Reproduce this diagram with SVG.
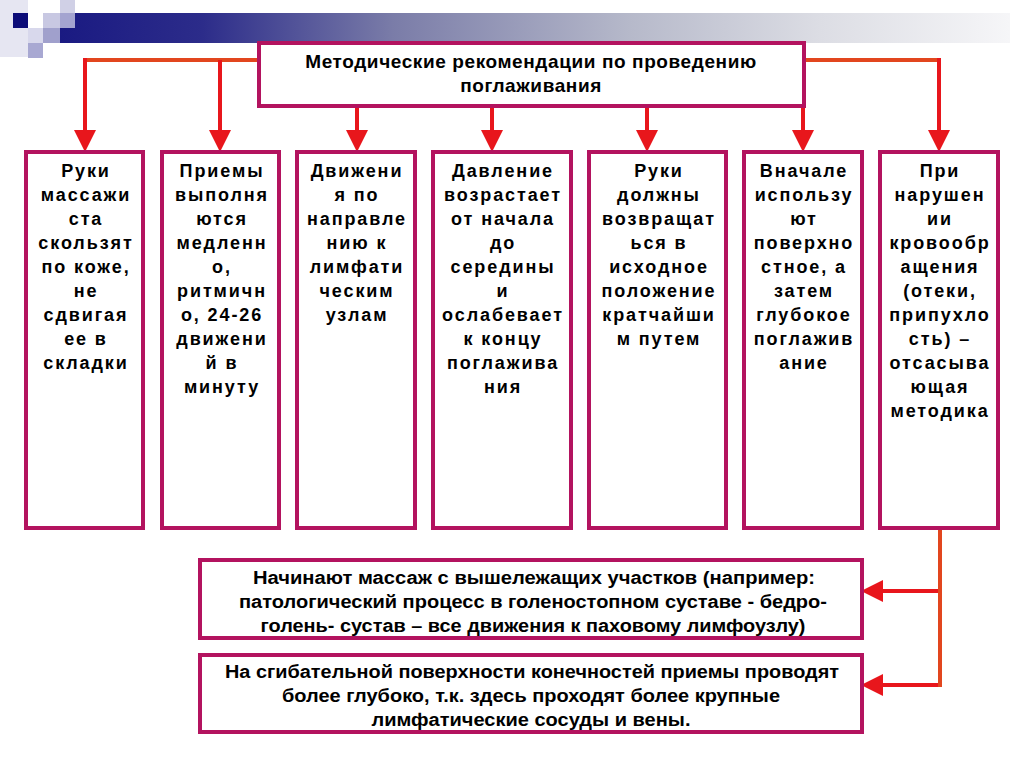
<svg xmlns="http://www.w3.org/2000/svg" width="1024" height="767" viewBox="0 0 1024 767">
<defs>
<linearGradient id="band" x1="0" y1="0" x2="1" y2="0">
<stop offset="0" stop-color="#1a1a82"/>
<stop offset="0.15" stop-color="#2c2c8a"/>
<stop offset="0.35" stop-color="#7a7ca8"/>
<stop offset="0.6" stop-color="#b6b9ca"/>
<stop offset="0.8" stop-color="#dcdde4"/>
<stop offset="1" stop-color="#f6f6f8"/>
</linearGradient>
<marker id="ah" markerUnits="userSpaceOnUse" markerWidth="22" markerHeight="22" viewBox="0 0 20 20" refX="0" refY="10" orient="auto">
<path d="M0,0 L20,10 L0,20 z" fill="#e8161c"/>
</marker>
<style>
.box{fill:#fff;stroke:#b3135f;stroke-width:4}
.col{font-family:"Liberation Sans",Arial,sans-serif;font-weight:bold;font-size:18px;letter-spacing:1.9px;text-anchor:middle;fill:#000}
.ttl{font-family:"Liberation Sans",Arial,sans-serif;font-weight:bold;font-size:19px;letter-spacing:0.6px;text-anchor:middle;fill:#000}
.nar{font-family:"Liberation Sans Narrow","Liberation Sans",Arial,sans-serif;font-weight:bold;font-size:18px;text-anchor:middle;fill:#000}
.arr{fill:none;stroke:#e8161c;stroke-width:4;marker-end:url(#ah)}
.hl{fill:none;stroke:#e2461e;stroke-width:4}
</style>
</defs>
<rect width="1024" height="767" fill="#fff"/>
<g id="decor">
<rect x="60" y="13" width="950" height="30" fill="url(#band)"/>
<rect x="0" y="0" width="28" height="57" fill="#e6e6f2"/>
<rect x="13" y="13" width="15" height="15" fill="#0c0c78"/>
<rect x="28" y="28" width="15" height="15" fill="#d8d8ec"/>
<rect x="28" y="43" width="15" height="15" fill="#a8a8d2"/>
<rect x="43" y="13" width="17" height="15" fill="#c8c8e2"/>
<rect x="43" y="28" width="17" height="15" fill="#a0a0cc"/>
<rect x="60" y="0" width="15" height="13" fill="#d0d0e6"/>
<rect x="60" y="13" width="15" height="15" fill="#a4a4d0"/>
</g>
<g id="connectors">
<path class="hl" d="M259,60 H85"/>
<path class="hl" d="M804,60 H939"/>
<path class="hl" d="M940,528 V685 H920"/>
<path class="hl" d="M940,591 H920"/>
<path class="arr" d="M85,58 V130"/>
<path class="arr" d="M220,60 V130"/>
<path class="arr" d="M357,106 V130"/>
<path class="arr" d="M492,106 V130"/>
<path class="arr" d="M647,106 V130"/>
<path class="arr" d="M803,106 V130"/>
<path class="arr" d="M939,58 V130"/>
<path class="arr" d="M938,591 H883"/>
<path class="arr" d="M938,685 H883"/>
</g>
<g id="title">
<rect class="box" x="259" y="43" width="545" height="63"/>
<text class="ttl" x="531" y="68">Методические рекомендации по проведению</text>
<text class="ttl" x="531" y="92">поглаживания</text>
</g>
<g id="c1">
<rect class="box" x="26" y="152" width="117" height="376"/>
<text class="col" x="86" y="177">Руки</text>
<text class="col" x="86" y="201">массажи</text>
<text class="col" x="86" y="225">ста</text>
<text class="col" x="86" y="249">скользят</text>
<text class="col" x="86" y="273">по коже,</text>
<text class="col" x="86" y="297">не</text>
<text class="col" x="86" y="321">сдвигая</text>
<text class="col" x="86" y="345">ее в</text>
<text class="col" x="86" y="369">складки</text>
</g>
<g id="c2">
<rect class="box" x="162" y="152" width="117" height="376"/>
<text class="col" x="222" y="177">Приемы</text>
<text class="col" x="222" y="201">выполня</text>
<text class="col" x="222" y="225">ются</text>
<text class="col" x="222" y="249">медленн</text>
<text class="col" x="222" y="273">о,</text>
<text class="col" x="222" y="297">ритмичн</text>
<text class="col" x="222" y="321">о, 24-26</text>
<text class="col" x="222" y="345">движени</text>
<text class="col" x="222" y="369">й в</text>
<text class="col" x="222" y="393">минуту</text>
</g>
<g id="c3">
<rect class="box" x="297" y="152" width="118" height="376"/>
<text class="col" x="357" y="177">Движени</text>
<text class="col" x="357" y="201">я по</text>
<text class="col" x="357" y="225">направле</text>
<text class="col" x="357" y="249">нию к</text>
<text class="col" x="357" y="273">лимфати</text>
<text class="col" x="357" y="297">ческим</text>
<text class="col" x="357" y="321">узлам</text>
</g>
<g id="c4">
<rect class="box" x="433" y="152" width="138" height="376"/>
<text class="col" x="503" y="177">Давление</text>
<text class="col" x="503" y="201">возрастает</text>
<text class="col" x="503" y="225">от начала</text>
<text class="col" x="503" y="249">до</text>
<text class="col" x="503" y="273">середины</text>
<text class="col" x="503" y="297">и</text>
<text class="col" x="503" y="321">ослабевает</text>
<text class="col" x="503" y="345">к концу</text>
<text class="col" x="503" y="369">поглажива</text>
<text class="col" x="503" y="393">ния</text>
</g>
<g id="c5">
<rect class="box" x="589" y="152" width="137" height="376"/>
<text class="col" x="659" y="177">Руки</text>
<text class="col" x="659" y="201">должны</text>
<text class="col" x="659" y="225">возвращат</text>
<text class="col" x="659" y="249">ься в</text>
<text class="col" x="659" y="273">исходное</text>
<text class="col" x="659" y="297">положение</text>
<text class="col" x="659" y="321">кратчайши</text>
<text class="col" x="659" y="345">м путем</text>
</g>
<g id="c6">
<rect class="box" x="744" y="152" width="118" height="376"/>
<text class="col" x="804" y="177">Вначале</text>
<text class="col" x="804" y="201">использу</text>
<text class="col" x="804" y="225">ют</text>
<text class="col" x="804" y="249">поверхно</text>
<text class="col" x="804" y="273">стное, а</text>
<text class="col" x="804" y="297">затем</text>
<text class="col" x="804" y="321">глубокое</text>
<text class="col" x="804" y="345">поглажив</text>
<text class="col" x="804" y="369">ание</text>
</g>
<g id="c7">
<rect class="box" x="880" y="152" width="118" height="376"/>
<text class="col" x="940" y="177">При</text>
<text class="col" x="940" y="201">нарушен</text>
<text class="col" x="940" y="225">ии</text>
<text class="col" x="940" y="249">кровообр</text>
<text class="col" x="940" y="273">ащения</text>
<text class="col" x="940" y="297">(отеки,</text>
<text class="col" x="940" y="321">припухло</text>
<text class="col" x="940" y="345">сть) –</text>
<text class="col" x="940" y="369">отсасыва</text>
<text class="col" x="940" y="393">ющая</text>
<text class="col" x="940" y="417">методика</text>
</g>
<g id="b1">
<rect class="box" x="200" y="560" width="662" height="78"/>
<text class="nar" x="534" y="584" textLength="562" lengthAdjust="spacingAndGlyphs">Начинают массаж с вышележащих участков (например:</text>
<text class="nar" x="533" y="608" textLength="588" lengthAdjust="spacingAndGlyphs">патологический процесс в голеностопном суставе - бедро-</text>
<text class="nar" x="533" y="632" textLength="545" lengthAdjust="spacingAndGlyphs">голень- сустав – все движения к паховому лимфоузлу)</text>
</g>
<g id="b2">
<rect class="box" x="200" y="655" width="662" height="77"/>
<text class="nar" x="532" y="678" textLength="614" lengthAdjust="spacingAndGlyphs">На сгибательной поверхности конечностей приемы проводят</text>
<text class="nar" x="531" y="702" textLength="498" lengthAdjust="spacingAndGlyphs">более глубоко, т.к. здесь проходят более крупные</text>
<text class="nar" x="531" y="726" textLength="319" lengthAdjust="spacingAndGlyphs">лимфатические сосуды и вены.</text>
</g>
</svg>
